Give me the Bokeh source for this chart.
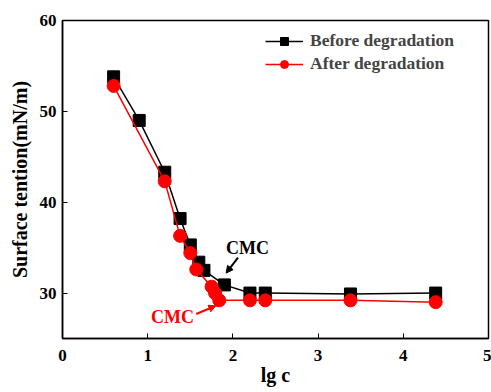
from bokeh.plotting import figure
from bokeh.models import Legend, LegendItem, Arrow, NormalHead, Label, Range1d, FixedTicker
from bokeh.embed import file_html
from bokeh.resources import INLINE

# data
before_x = [0.60, 0.90, 1.20, 1.38, 1.50, 1.60, 1.66, 1.90, 2.20, 2.38, 3.38, 4.38]
before_y = [53.8, 49.0, 43.3, 38.2, 35.3, 33.4, 32.5, 30.9, 30.0, 30.0, 29.9, 30.0]
after_x = [0.60, 1.20, 1.38, 1.50, 1.57, 1.75, 1.79, 1.84, 2.20, 2.38, 3.38, 4.38]
after_y = [52.8, 42.3, 36.3, 34.4, 32.6, 30.7, 30.0, 29.2, 29.2, 29.2, 29.2, 29.0]
x_ticks = [0, 1, 2, 3, 4, 5]
y_ticks = [30, 40, 50, 60]

FONT = "Liberation Serif"

p = figure(width=491, height=392, output_backend="svg", toolbar_location=None,
           x_range=Range1d(0, 5), y_range=Range1d(25, 60),
           min_border_left=62, min_border_right=3, min_border_top=20, min_border_bottom=54)
p.grid.visible = False
p.outline_line_color = "black"
p.outline_line_width = 1.5

for ax in (p.xaxis[0], p.yaxis[0]):
    ax.axis_line_width = 1.5
    ax.major_tick_in = 5
    ax.major_tick_out = 0
    ax.minor_tick_line_color = None
    ax.major_label_text_font = FONT
    ax.major_label_text_font_style = "bold"
    ax.major_label_text_font_size = "17px"
    ax.major_label_text_color = "black"
    ax.axis_label_text_font = FONT
    ax.axis_label_text_font_style = "bold"
    ax.axis_label_text_font_size = "20px"
    ax.axis_label_text_color = "black"

p.xaxis[0].ticker = FixedTicker(ticks=x_ticks)
p.yaxis[0].ticker = FixedTicker(ticks=y_ticks)
p.xaxis[0].axis_label = "lg c"
p.yaxis[0].axis_label = "Surface tention(mN/m)"
p.xaxis[0].major_label_standoff = 11
p.yaxis[0].major_label_standoff = 6
p.xaxis[0].axis_label_standoff = 0
p.yaxis[0].axis_label_standoff = 6

bl = p.line(before_x, before_y, line_color="black", line_width=1.5)
bm = p.scatter(before_x, before_y, marker="square", size=12, color="black")
rl = p.line(after_x, after_y, line_color="red", line_width=1.5)
rm = p.scatter(after_x, after_y, marker="circle", size=13, color="red")

legend = Legend(items=[LegendItem(label="Before degradation", renderers=[bl, bm]),
                       LegendItem(label="After degradation", renderers=[rl, rm])],
                location=(203, 264), border_line_color=None, background_fill_alpha=0,
                label_text_font=FONT, label_text_font_style="bold", label_text_font_size="17.5px",
                glyph_width=38, spacing=2, margin=0, padding=6, label_standoff=7)
p.add_layout(legend)

# annotations
p.add_layout(Label(x=2.17, y=35.0, text="CMC", text_font=FONT, text_font_style="bold",
                   text_font_size="18px", text_color="black", text_align="center",
                   text_baseline="middle"))
p.add_layout(Arrow(x_start=2.06, y_start=33.9, x_end=1.92, y_end=32.2, line_color="black",
                   line_width=2, end=NormalHead(size=7, fill_color="black", line_color="black")))
p.add_layout(Label(x=1.29, y=27.4, text="CMC", text_font=FONT, text_font_style="bold",
                   text_font_size="18px", text_color="red", text_align="center",
                   text_baseline="middle"))
p.add_layout(Arrow(x_start=1.57, y_start=27.7, x_end=1.80, y_end=28.6, line_color="red",
                   line_width=2, end=NormalHead(size=7, fill_color="red", line_color="red")))

open("out.html", "w").write(file_html(p, INLINE))
